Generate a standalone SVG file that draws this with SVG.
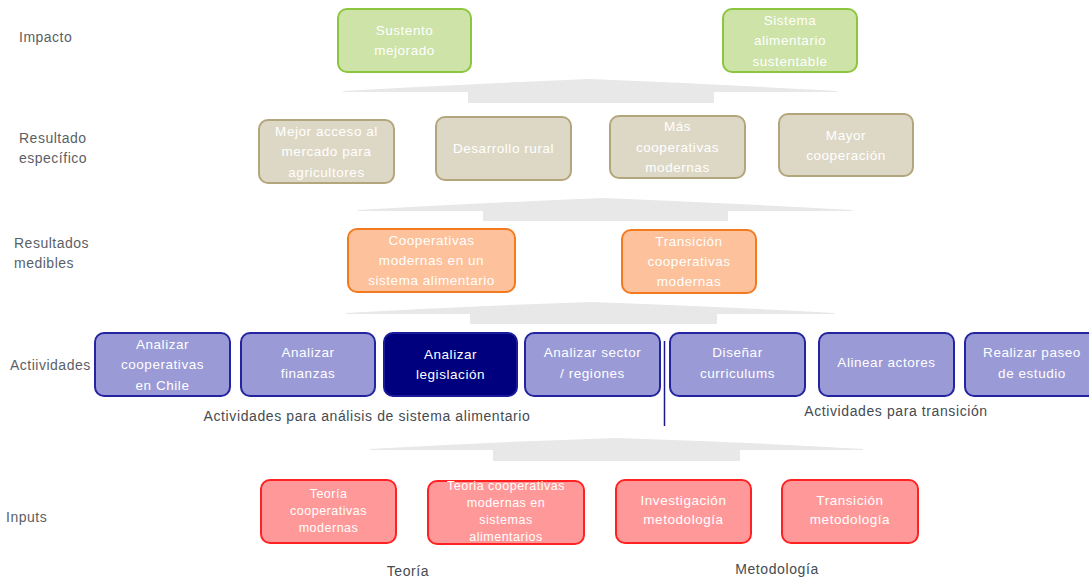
<svg xmlns="http://www.w3.org/2000/svg" width="1089" height="580" viewBox="0 0 1089 580">
<style>
.lbl{font-family:"Liberation Sans",Arial,sans-serif;font-size:14px;letter-spacing:0.5px;fill:#5a5f66}
.sub{font-family:"Liberation Sans",Arial,sans-serif;font-size:14px;letter-spacing:0.6px;fill:#454b52;text-anchor:middle}
.nt{font-family:"Liberation Sans",Arial,sans-serif;font-size:13.5px;letter-spacing:0.55px;fill:#ffffff;text-anchor:middle}
.ns{font-family:"Liberation Sans",Arial,sans-serif;font-size:12.5px;letter-spacing:0.5px;fill:#ffffff;text-anchor:middle}
.g{fill:#cde3a8;stroke:#8cc63f;stroke-width:2}
.t{fill:#ddd8c5;stroke:#b3a67c;stroke-width:2}
.o{fill:#fdc19b;stroke:#f47a20;stroke-width:2}
.p{fill:#9a9ad6;stroke:#2424a0;stroke-width:2}
.d{fill:#00007f;stroke:#1a1a9a;stroke-width:2}
.r{fill:#ff9999;stroke:#ff2222;stroke-width:2}
.arr{fill:#e8e8e8}
</style>
<rect width="1089" height="580" fill="#ffffff"/>
<g id="connectors">
<path class="arr" d="M343,91 Q466,84 590,79 Q714,84 837,91 L837,92 L714,92 L714,103 L468,103 L468,92 L343,92 Z"/>
<path class="arr" d="M358,210 Q480,203 603,198 Q728,203 852,210 L852,211 L728,211 L728,221 L483,221 L483,211 L358,211 Z"/>
<path class="arr" d="M346,313 Q468,306 590,302 Q712,306 834,313 L834,314 L717,314 L717,324 L470,324 L470,314 L346,314 Z"/>
<path class="arr" d="M370,449 Q493,442 617,438 Q740,442 863,449 L863,450 L740,450 L740,461 L493,461 L493,450 L370,450 Z"/>
<line x1="664.5" y1="341" x2="664.5" y2="426" stroke="#1a1a8a" stroke-width="1.5"/>
</g>
<g id="labels">
<text class="lbl" x="19" y="41.5">Impacto</text>
<text class="lbl" x="19" y="142.5">Resultado</text>
<text class="lbl" x="19" y="162.5">específico</text>
<text class="lbl" x="14" y="247.5">Resultados</text>
<text class="lbl" x="14" y="267.5">medibles</text>
<text class="lbl" x="10" y="369.5">Actiividades</text>
<text class="lbl" x="6" y="521.5">Inputs</text>
<text class="sub" x="367" y="420.5">Actividades para análisis de sistema alimentario</text>
<text class="sub" x="896" y="415.5">Actividades para transición</text>
<text class="sub" x="408" y="575.5">Teoría</text>
<text class="sub" x="777" y="573.5">Metodología</text>
</g>
<g id="n-sustento"><rect class="g" x="338" y="9" width="133" height="63" rx="9"/><text class="nt" x="404.5" y="34.5">Sustento</text><text class="nt" x="404.5" y="55">mejorado</text></g>
<g id="n-sistema"><rect class="g" x="723" y="9" width="134" height="63" rx="9"/><text class="nt" x="790" y="24.5">Sistema</text><text class="nt" x="790" y="45">alimentario</text><text class="nt" x="790" y="65.5">sustentable</text></g>
<g id="n-acceso"><rect class="t" x="259" y="120" width="135" height="63" rx="9"/><text class="nt" x="326.5" y="135.5">Mejor acceso al</text><text class="nt" x="326.5" y="156">mercado para</text><text class="nt" x="326.5" y="176.5">agricultores</text></g>
<g id="n-rural"><rect class="t" x="436" y="117" width="135" height="63" rx="9"/><text class="nt" x="503.5" y="153">Desarrollo rural</text></g>
<g id="n-mas"><rect class="t" x="610" y="116" width="135" height="62" rx="9"/><text class="nt" x="677.5" y="131">Más</text><text class="nt" x="677.5" y="151.5">cooperativas</text><text class="nt" x="677.5" y="172">modernas</text></g>
<g id="n-mayor"><rect class="t" x="779" y="114" width="134" height="62" rx="9"/><text class="nt" x="846" y="139.5">Mayor</text><text class="nt" x="846" y="160">cooperación</text></g>
<g id="n-coopmod"><rect class="o" x="348" y="229" width="167" height="63" rx="9"/><text class="nt" x="431.5" y="245">Cooperativas</text><text class="nt" x="431.5" y="265">modernas en un</text><text class="nt" x="431.5" y="285">sistema alimentario</text></g>
<g id="n-trans"><rect class="o" x="622" y="230" width="134" height="63" rx="9"/><text class="nt" x="689" y="246">Transición</text><text class="nt" x="689" y="266">cooperativas</text><text class="nt" x="689" y="286">modernas</text></g>
<g id="n-a1"><rect class="p" x="95" y="333" width="135" height="63" rx="9"/><text class="nt" x="162.5" y="348.5">Analizar</text><text class="nt" x="162.5" y="369">cooperativas</text><text class="nt" x="162.5" y="389.5">en Chile</text></g>
<g id="n-a2"><rect class="p" x="241" y="333" width="134" height="63" rx="9"/><text class="nt" x="308" y="357">Analizar</text><text class="nt" x="308" y="377.5">finanzas</text></g>
<g id="n-a3"><rect class="d" x="384" y="333" width="133" height="63" rx="9"/><text class="nt" x="450.5" y="358.5">Analizar</text><text class="nt" x="450.5" y="379">legislación</text></g>
<g id="n-a4"><rect class="p" x="525" y="333" width="135" height="63" rx="9"/><text class="nt" x="592.5" y="357">Analizar sector</text><text class="nt" x="592.5" y="377.5">/ regiones</text></g>
<g id="n-a5"><rect class="p" x="670" y="333" width="135" height="63" rx="9"/><text class="nt" x="737.5" y="357">Diseñar</text><text class="nt" x="737.5" y="377.5">curriculums</text></g>
<g id="n-a6"><rect class="p" x="819" y="333" width="135" height="63" rx="9"/><text class="nt" x="886.5" y="366.5">Alinear actores</text></g>
<g id="n-a7"><rect class="p" x="965" y="333" width="135" height="63" rx="9"/><text class="nt" x="1032" y="357">Realizar paseo</text><text class="nt" x="1032" y="377.5">de estudio</text></g>
<g id="n-i1"><rect class="r" x="261" y="480" width="135" height="63" rx="9"/><text class="ns" x="328.5" y="498">Teoría</text><text class="ns" x="328.5" y="515">cooperativas</text><text class="ns" x="328.5" y="532">modernas</text></g>
<g id="n-i2"><rect class="r" x="428" y="481" width="156" height="63" rx="9"/><text class="ns" x="506" y="490">Teoria cooperativas</text><text class="ns" x="506" y="506.5">modernas en</text><text class="ns" x="506" y="523.5">sistemas</text><text class="ns" x="506" y="541">alimentarios</text></g>
<g id="n-i3"><rect class="r" x="616" y="480" width="135" height="63" rx="9"/><text class="nt" x="683.5" y="504.5">Investigación</text><text class="nt" x="683.5" y="524">metodología</text></g>
<g id="n-i4"><rect class="r" x="782" y="480" width="136" height="63" rx="9"/><text class="nt" x="850" y="504.5">Transición</text><text class="nt" x="850" y="524">metodología</text></g>
</svg>
